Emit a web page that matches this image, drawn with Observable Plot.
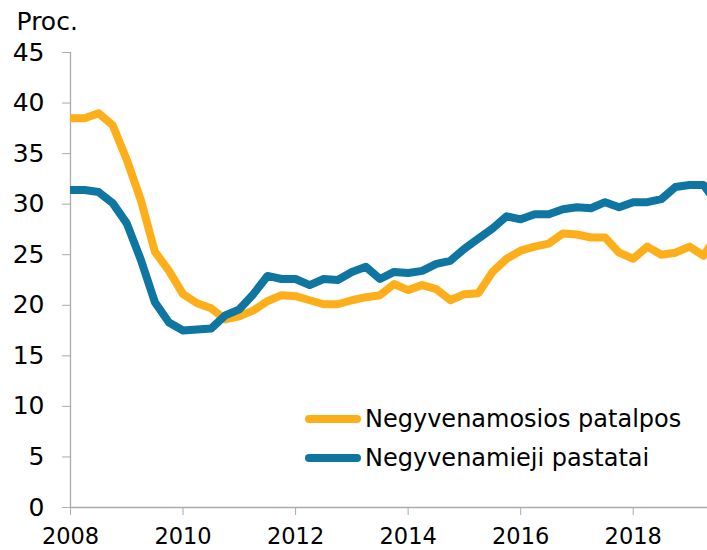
<!DOCTYPE html>
<html>
<head>
<meta charset="utf-8">
<script src="https://cdn.jsdelivr.net/npm/d3@7"></script>
<script src="https://cdn.jsdelivr.net/npm/@observablehq/plot@0.6"></script>
<style>
  html, body { margin: 0; padding: 0; background: #fff; }
  #wrap { position: relative; width: 707px; height: 550px; font-family: "DejaVu Sans", Verdana, sans-serif; }
  .legend { position: absolute; left: 305px; top: 400px; font-size: 24px; color: #000; }
  .legend .row { display: flex; align-items: center; height: 38.5px; }
  .legend .sw { width: 56px; height: 8px; border-radius: 4px; margin-right: 4px; }
</style>
</head>
<body>
<div id="wrap"></div>
<script>
// Quarterly data, starting 2008 Q1 (last point 2019 Q3 is partly clipped at the right edge)
const startYear = 2008;
const seriesNames = ["Negyvenamosios patalpos", "Negyvenamieji pastatai"];
const colors = ["#FDAF1B", "#0E76A0"];
const patalpos = [38.5, 38.5, 39.0, 37.8, 34.4, 30.4, 25.3, 23.4, 21.1, 20.2,
  19.7, 18.6, 18.9, 19.5, 20.4, 21.0, 20.9, 20.5, 20.1, 20.1,
  20.5, 20.8, 21.0, 22.1, 21.5, 22.0, 21.6, 20.5, 21.1, 21.2,
  23.3, 24.6, 25.4, 25.8, 26.1, 27.1, 27.0, 26.7, 26.7, 25.2,
  24.6, 25.8, 25.0, 25.2, 25.8, 24.9, 27.0];
const pastatai = [31.4, 31.4, 31.2, 30.1, 28.1, 24.5, 20.3, 18.3, 17.5, 17.6,
  17.7, 19.0, 19.6, 21.1, 22.9, 22.6, 22.6, 22.0, 22.6, 22.5,
  23.3, 23.8, 22.6, 23.3, 23.2, 23.4, 24.1, 24.4, 25.6, 26.6,
  27.6, 28.8, 28.5, 29.0, 29.0, 29.5, 29.7, 29.6, 30.2, 29.7,
  30.2, 30.2, 30.5, 31.7, 31.9, 31.9, 30.0];
const xTicks = [2008, 2010, 2012, 2014, 2016, 2018];
const yTicks = [0, 5, 10, 15, 20, 25, 30, 35, 40, 45];
const yLabel = "Proc.";

const rows = [];
[patalpos, pastatai].forEach((vals, s) => {
  vals.forEach((v, i) => rows.push({series: seriesNames[s], t: startYear + i / 4, v}));
});

const axisGray = "#ABABAB";
const chart = Plot.plot({
  width: 707,
  height: 550,
  marginTop: 52,
  marginBottom: 43,
  marginLeft: 70,
  marginRight: 0,
  style: {fontFamily: "'DejaVu Sans', Verdana, sans-serif", fontSize: "24px", color: "#000", background: "#fff"},
  x: {domain: [2008, 2019.32]},
  y: {domain: [0, 45]},
  color: {domain: seriesNames, range: colors},
  marks: [
    Plot.ruleX([2008], {stroke: axisGray, strokeWidth: 1.3}),
    Plot.ruleY([0], {stroke: axisGray, strokeWidth: 1.3}),
    Plot.axisY({ticks: yTicks, tickSize: 8, tickPadding: 18, stroke: axisGray, label: null, fill: "#000", fontSize: 25}),
    Plot.axisX({ticks: xTicks, tickSize: 8, tickPadding: 13, stroke: axisGray, tickFormat: d => String(d), label: null, fill: "#000", fontSize: 22.5}),
    Plot.text([yLabel], {frameAnchor: "top-left", text: d => d, dx: -54, dy: -40, textAnchor: "start", fill: "#000", fontSize: 25}),
    Plot.line(rows, {x: "t", y: "v", stroke: "series", z: "series", strokeWidth: 8, strokeLinejoin: "round", clip: true})
  ]
});

const wrap = document.getElementById("wrap");
wrap.appendChild(chart);
const legend = document.createElement("div");
legend.className = "legend";
seriesNames.forEach((name, i) => {
  const row = document.createElement("div");
  row.className = "row";
  const sw = document.createElement("div");
  sw.className = "sw";
  sw.style.background = colors[i];
  const label = document.createElement("span");
  label.textContent = name;
  row.appendChild(sw);
  row.appendChild(label);
  legend.appendChild(row);
});
wrap.appendChild(legend);
</script>
</body>
</html>
